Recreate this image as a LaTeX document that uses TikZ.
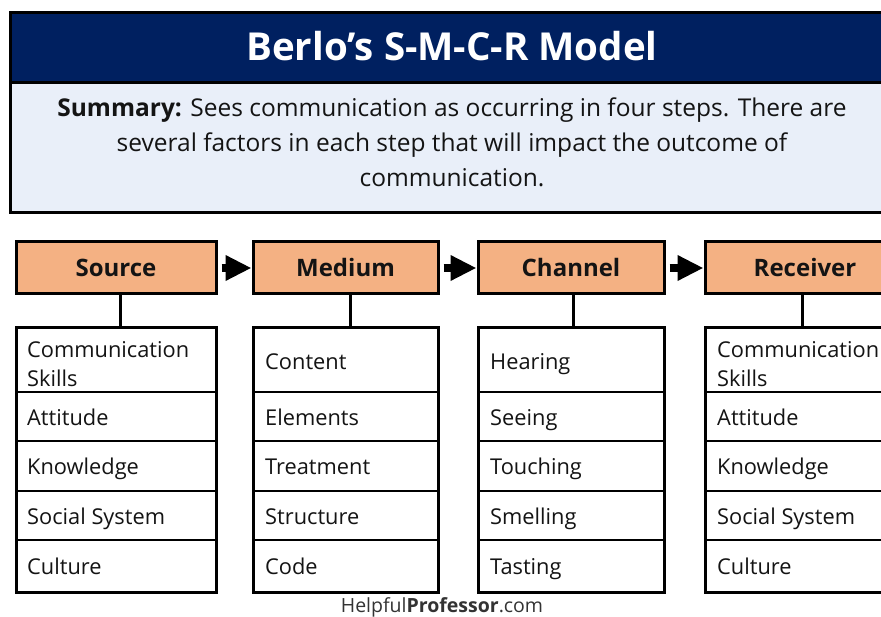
\documentclass[tikz,border=0pt]{standalone}
\usepackage{fontspec}
\setmainfont{Open Sans}
\usetikzlibrary{arrows.meta}
\definecolor{navy}{RGB}{0,32,96}
\definecolor{paleblue}{RGB}{233,239,249}
\definecolor{peach}{RGB}{244,177,131}
\definecolor{ink}{RGB}{20,20,20}
\newcommand\smcrrows[3]{%
  \node[listrow, minimum width=#3pt, minimum height=64pt] (#1r1) at (#2,328) {};
  \node[listrow, minimum width=#3pt, minimum height=49pt] (#1r2) at (#2,392) {};
  \node[listrow, minimum width=#3pt, minimum height=50pt] (#1r3) at (#2,441) {};
  \node[listrow, minimum width=#3pt, minimum height=49pt] (#1r4) at (#2,491) {};
  \node[listrow, minimum width=#3pt, minimum height=52pt] (#1r5) at (#2,540) {};
  \node[listframe, minimum width=#3pt, minimum height=264pt] (#1list) at (#2,328) {};
}
\begin{document}
\begin{tikzpicture}[x=1pt,y=-1pt,
  stepbox/.style={draw=black, line width=3pt, fill=peach, minimum height=52pt, inner sep=0pt,
    text=ink, font=\fontsize{24}{27}\selectfont\bfseries},
  listrow/.style={draw=black, line width=1.2pt, inner sep=0pt, outer sep=0pt, anchor=north west},
  listframe/.style={draw=black, line width=3pt, inner sep=0pt, outer sep=0pt, anchor=north west},
  item/.style={anchor=base west, inner sep=0pt, text=ink, font=\fontsize{21.8}{29}\selectfont},
  item2/.style={anchor=west, inner sep=0pt, text=ink, align=left, font=\fontsize{21.8}{29}\selectfont},
  flow/.style={line width=8pt, -{Triangle[length=26pt,width=24pt]}, shorten <=4pt, shorten >=0pt},
  link/.style={line width=3pt}
]
\useasboundingbox (0,0) rectangle (881,617);
\clip (0,0) rectangle (881,617);
\fill[white] (0,0) rectangle (881,617);

% header and summary
\node[draw=black, line width=3pt, fill=navy, minimum width=890pt, minimum height=70pt,
  anchor=north west, inner sep=0pt, outer sep=0pt] (head) at (10,13) {};
\node[draw=black, line width=3pt, fill=paleblue, minimum width=890pt, minimum height=130pt,
  anchor=north west, inner sep=0pt, outer sep=0pt] (sumbox) at (10,83) {};
\node[text=white, font=\fontsize{38.5}{42}\selectfont\bfseries, inner sep=0pt] (title) at (452,46)
  {Berlo’s S-M-C-R Model};
\node[text=ink, align=center, inner sep=0pt, font=\fontsize{24.5}{35}\selectfont] (summary) at (452,142)
  {\textbf{Summary:} Sees communication as occurring in four steps. There are\\
   several factors in each step that will impact the outcome of\\
   communication.};

% steps
\node[stepbox, minimum width=200pt] (src) at (116,268) {Source};
\node[stepbox, minimum width=185pt] (med) at (345.5,268) {Medium};
\node[stepbox, minimum width=186pt] (chn) at (571,268) {Channel};
\node[stepbox, minimum width=200pt] (rcv) at (805,268) {Receiver};

\draw[flow] (src.east) -- (med.west);
\draw[flow] (med.east) -- (chn.west);
\draw[flow] (chn.east) -- (rcv.west);

% lists
\smcrrows{s}{16}{200}
\smcrrows{m}{253}{185}
\smcrrows{c}{478}{186}
\smcrrows{r}{705}{200}

\draw[link] ([xshift=4pt]src.south) -- ([xshift=4pt]slist.north);
\draw[link] ([xshift=4.5pt]med.south) -- ([xshift=4.5pt]mlist.north);
\draw[link] ([xshift=2pt]chn.south) -- ([xshift=2pt]clist.north);
\draw[link] ([xshift=-3pt]rcv.south) -- ([xshift=-3pt]rlist.north);

% source items
\node[item2] (s1) at (27,364) {Communication\\Skills};
\node[item] (s2) at (27,426) {Attitude};
\node[item] (s3) at (27,474.5) {Knowledge};
\node[item] (s4) at (27,524) {Social System};
\node[item] (s5) at (27,574) {Culture};
% medium items
\node[item] (m1) at (265,370) {Content};
\node[item] (m2) at (265,426) {Elements};
\node[item] (m3) at (265,474.5) {Treatment};
\node[item] (m4) at (265,524) {Structure};
\node[item] (m5) at (265,574) {Code};
% channel items
\node[item] (c1) at (490,370) {Hearing};
\node[item] (c2) at (490,426) {Seeing};
\node[item] (c3) at (490,474.5) {Touching};
\node[item] (c4) at (490,524) {Smelling};
\node[item] (c5) at (490,574) {Tasting};
% receiver items
\node[item2] (r1) at (717,364) {Communication\\Skills};
\node[item] (r2) at (717,426) {Attitude};
\node[item] (r3) at (717,474.5) {Knowledge};
\node[item] (r4) at (717,524) {Social System};
\node[item] (r5) at (717,574) {Culture};

\node[anchor=base, inner sep=0pt, text=black!80, font=\fontsize{19.5}{21}\selectfont] (footer) at (442,612)
  {Helpful\textbf{Professor}.com};
\end{tikzpicture}
\end{document}
